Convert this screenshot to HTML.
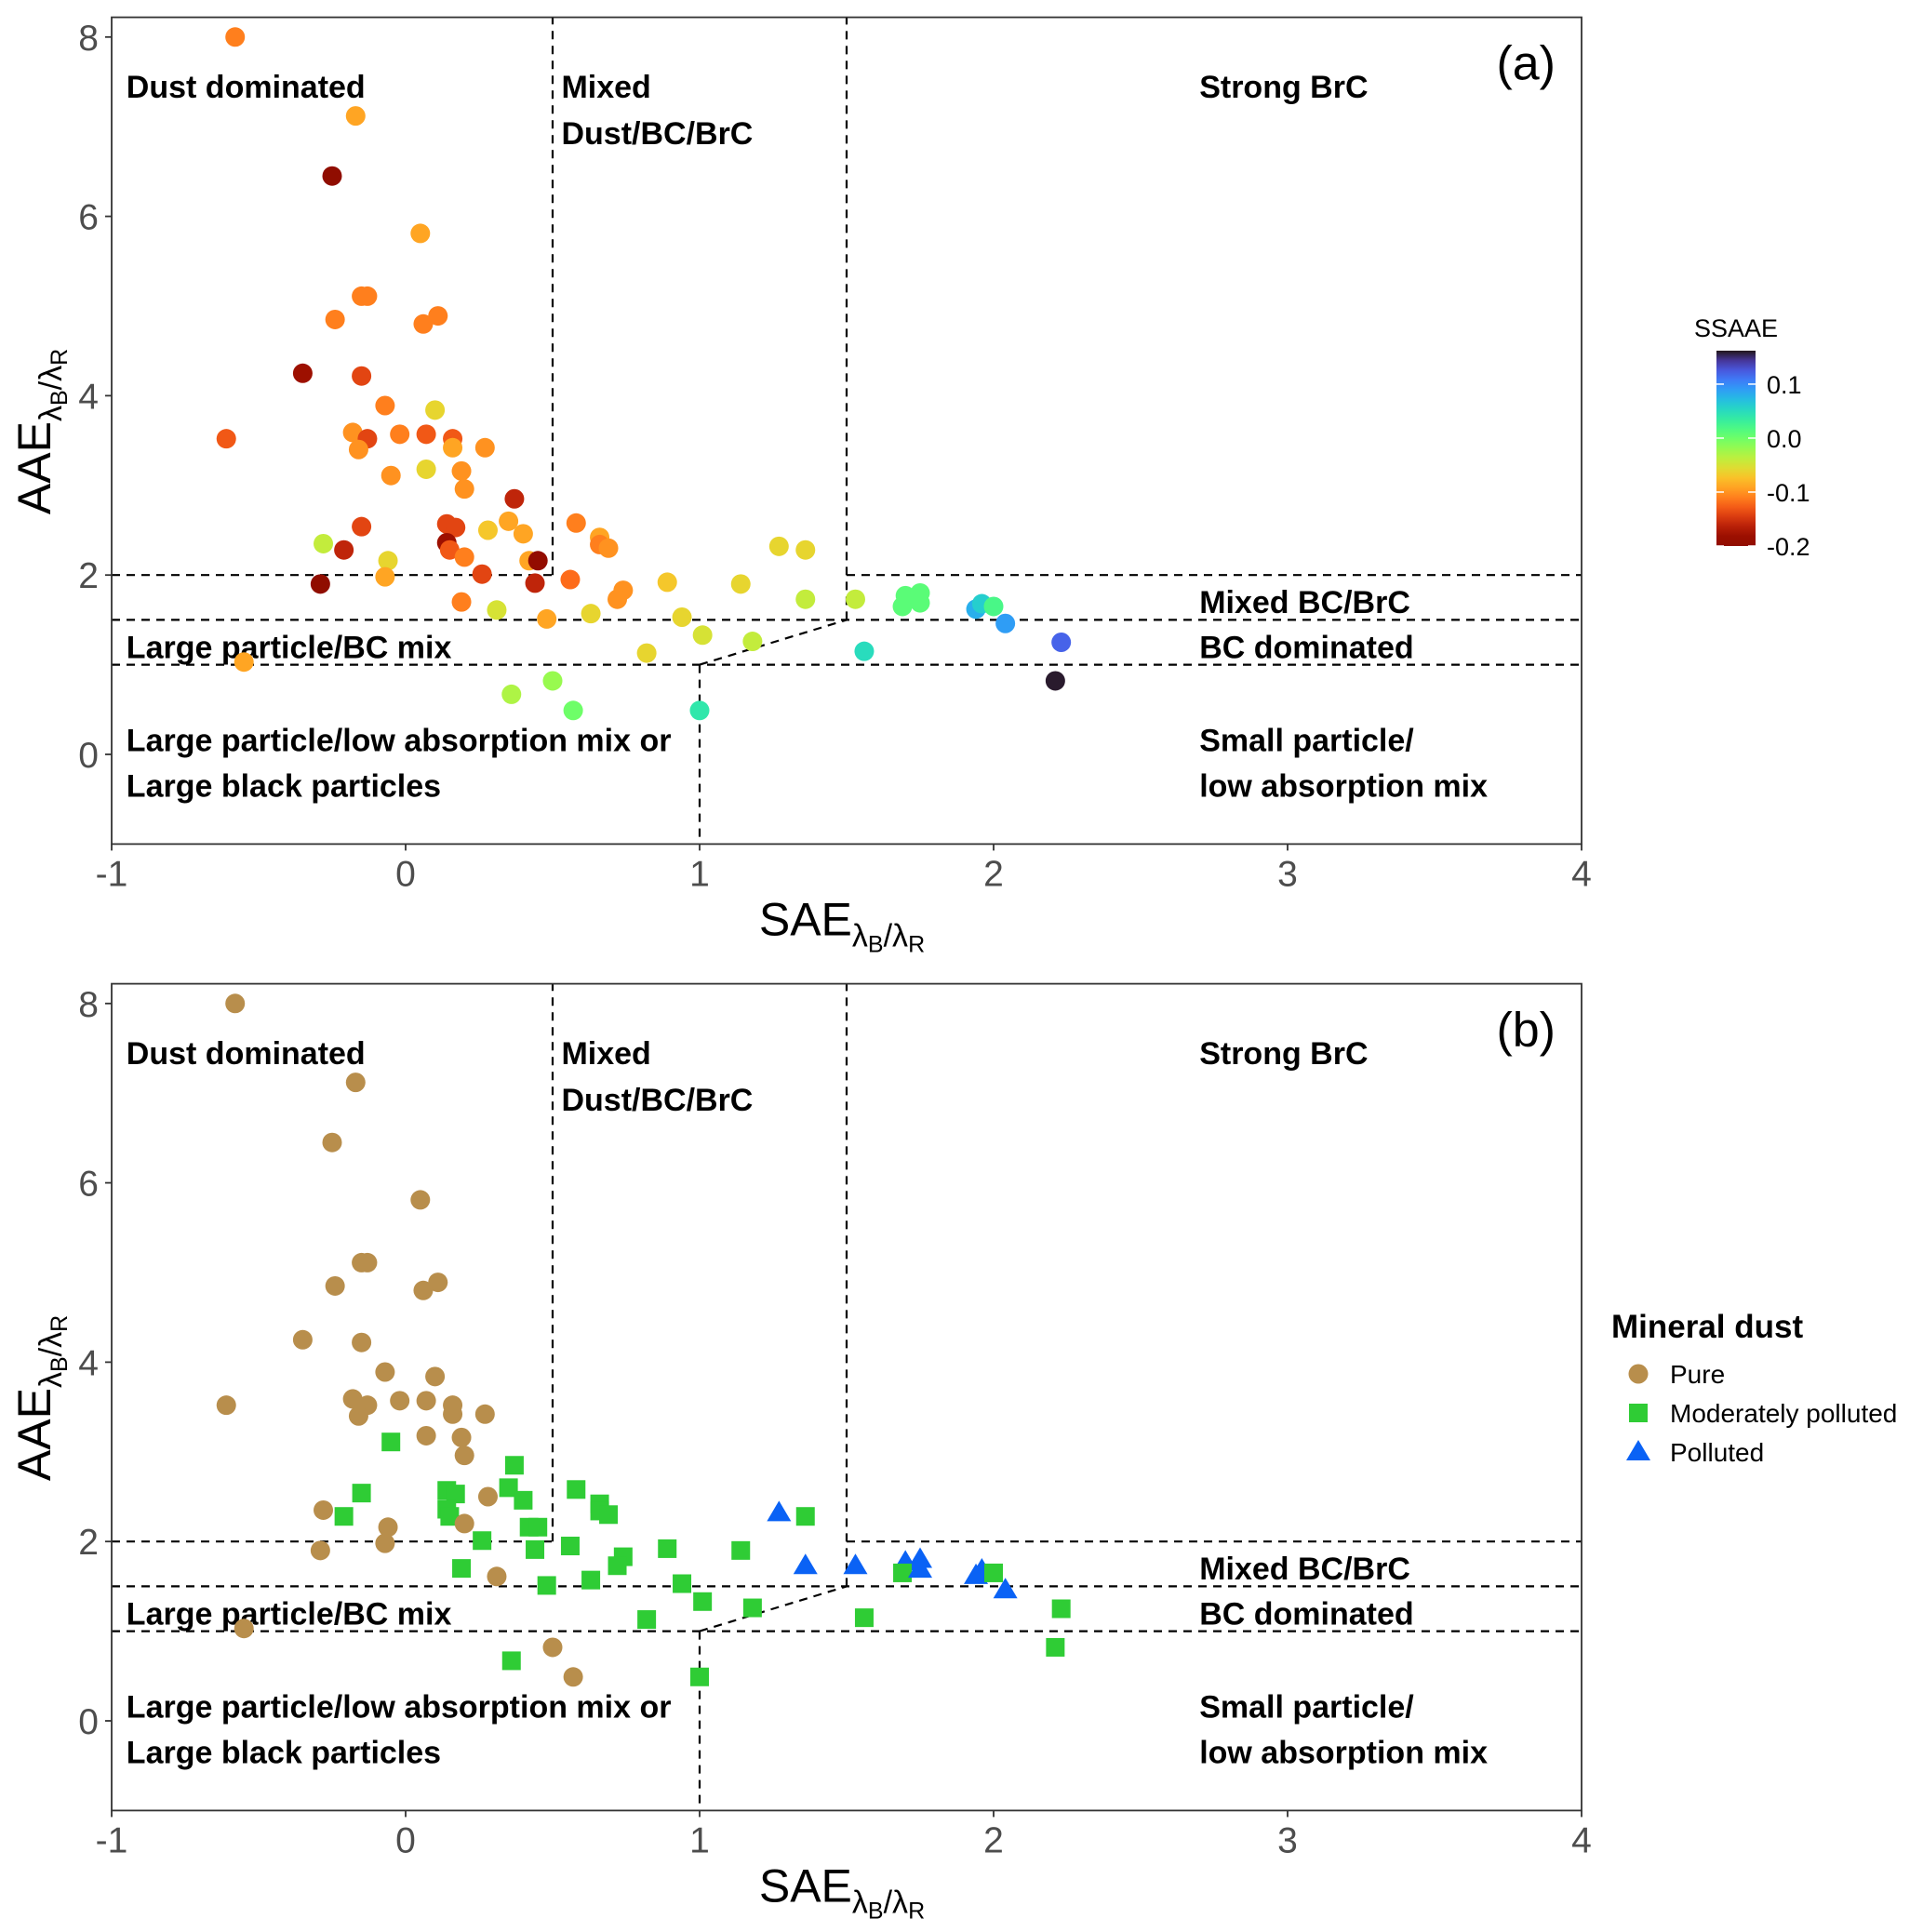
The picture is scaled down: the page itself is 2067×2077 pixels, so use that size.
<!DOCTYPE html>
<html><head><meta charset="utf-8"><style>
html,body{margin:0;padding:0;background:#fff;}
svg{display:block;font-family:"Liberation Sans",sans-serif;}
.lab{font-weight:bold;font-size:34px;fill:#000;}
.tick{font-size:39px;fill:#4d4d4d;}
</style></head><body>
<svg id="chart" width="2067" height="2077" viewBox="0 0 2067 2077" xmlns="http://www.w3.org/2000/svg"></svg>
<script>
// data: SAE, AAE, SSAAE, category (0 pure,1 moderately polluted,2 polluted)
const sae = [-0.58,-0.17,-0.25,0.05,-0.15,-0.13,-0.24,0.11,0.06,-0.35,-0.15,-0.61,-0.07,0.10,-0.18,-0.13,-0.02,0.07,0.16,-0.16,0.16,0.27,-0.05,0.07,0.19,0.20,0.37,0.35,0.28,0.40,0.14,0.17,-0.15,-0.28,-0.21,0.14,0.15,0.20,-0.06,0.42,0.45,0.26,-0.07,-0.29,0.44,0.56,0.19,0.31,0.48,0.58,0.66,0.66,0.69,0.74,0.72,0.63,0.89,0.94,0.82,1.01,1.14,1.18,1.27,1.36,1.36,1.53,1.56,1.70,1.75,1.69,1.75,1.94,1.96,2.00,2.04,2.23,2.21,-0.55,0.36,0.50,0.57,1.00];
const aae = [8.0,7.12,6.45,5.81,5.11,5.11,4.85,4.89,4.80,4.25,4.22,3.52,3.89,3.84,3.59,3.52,3.57,3.57,3.52,3.40,3.42,3.42,3.11,3.18,3.16,2.96,2.85,2.60,2.50,2.46,2.57,2.53,2.54,2.35,2.28,2.36,2.28,2.20,2.16,2.16,2.16,2.01,1.98,1.90,1.91,1.95,1.70,1.61,1.51,2.58,2.42,2.34,2.30,1.83,1.73,1.57,1.92,1.53,1.13,1.33,1.90,1.26,2.32,2.28,1.73,1.73,1.15,1.77,1.80,1.65,1.69,1.62,1.68,1.65,1.46,1.25,0.82,1.03,0.67,0.82,0.49,0.49];
const ssaae = [-0.11,-0.09,-0.20,-0.09,-0.11,-0.11,-0.11,-0.11,-0.11,-0.18,-0.14,-0.13,-0.11,-0.06,-0.10,-0.14,-0.11,-0.13,-0.13,-0.10,-0.09,-0.10,-0.10,-0.06,-0.10,-0.10,-0.16,-0.09,-0.07,-0.09,-0.14,-0.14,-0.14,-0.04,-0.16,-0.18,-0.13,-0.11,-0.06,-0.09,-0.19,-0.14,-0.09,-0.21,-0.16,-0.12,-0.11,-0.05,-0.09,-0.11,-0.09,-0.11,-0.10,-0.10,-0.10,-0.06,-0.07,-0.06,-0.06,-0.05,-0.06,-0.04,-0.06,-0.06,-0.04,-0.04,0.05,0.01,0.01,0.01,0.01,0.08,0.06,0.02,0.09,0.12,0.16,-0.09,-0.03,-0.02,0.00,0.04];
const cat = [0,0,0,0,0,0,0,0,0,0,0,0,0,0,0,0,0,0,0,0,0,0,1,0,0,0,1,1,0,1,1,1,1,0,1,1,1,0,0,1,1,1,0,0,1,1,1,0,1,1,1,1,1,1,1,1,1,1,1,1,1,1,2,1,2,2,1,2,2,1,2,2,2,1,2,1,1,0,1,0,0,1];
const xTicks = [-1,0,1,2,3,4];
const yTicks = [0,2,4,6,8];
const cbTicks = [0.1,0.0,-0.1,-0.2];
const cbTickLabels = ["0.1","0.0","-0.1","-0.2"];
const catNames = ["Pure","Moderately polluted","Polluted"];
const catColors = ["#b88e4c","#2fcc35","#0a62f5"];

const NS="http://www.w3.org/2000/svg";
const svg=document.getElementById('chart');
function mk(tag,attrs,parent){const e=document.createElementNS(NS,tag);for(const k in attrs)e.setAttribute(k,attrs[k]);(parent||svg).appendChild(e);return e;}
function turbo(t){t=Math.max(0,Math.min(1,t));
 const r=0.13572138+t*(4.61539260+t*(-42.66032258+t*(132.13108234+t*(-152.94239396+t*59.28637943))));
 const g=0.09140261+t*(2.19418839+t*(4.84296658+t*(-14.18503333+t*(4.27729857+t*2.82956604))));
 const b=0.10667330+t*(12.64194608+t*(-60.58204836+t*(110.36276771+t*(-89.90310912+t*27.34824973))));
 const c=v=>Math.round(Math.max(0,Math.min(1,v))*255);return `rgb(${c(r)},${c(g)},${c(b)})`;}
const vMin=-0.2,vMax=0.162;
function colorOf(v){return turbo((vMax-v)/(vMax-vMin));}

const X0=120,XU=316;
function sx(v){return X0+(v+1)*XU;}
function makePanel(top0,name,label){
  const YU=96.4;
  const sy=v=>top0-v*YU;
  const g=mk('g',{});
  
  
  const yTop=sy(8.22), yBot=sy(-1);
  const dl=(x1,y1,x2,y2)=>{const l=mk('line',{x1:sx(x1),y1:sy(y1),x2:sx(x2),y2:sy(y2),stroke:'#000','stroke-width':2.2,'stroke-dasharray':'9,7'},g);};
  dl(-1,2,0.5,2); dl(0.5,2,0.5,8.22); dl(-1,1.5,4,1.5); dl(-1,1,4,1); dl(1.5,1.5,1.5,8.22); dl(1.5,2,4,2); dl(1,1,1.5,1.5); dl(1,1,1,-1);
  const labels=[["Dust dominated",-0.95,7.45],["Mixed",0.53,7.45],["Dust/BC/BrC",0.53,6.93],["Strong BrC",2.70,7.45],["Mixed BC/BrC",2.70,1.7],["BC dominated",2.70,1.2],["Large particle/BC mix",-0.95,1.2],["Large particle/low absorption mix or",-0.95,0.16],["Large black particles",-0.95,-0.35],["Small particle/",2.70,0.16],["low absorption mix",2.70,-0.35]];
  labels.forEach(l=>{const t=mk('text',{x:sx(l[1]),y:sy(l[2])+12,class:'lab'},g);t.textContent=l[0];});
  const pl=mk('text',{x:1672,y:sy(7.7)+17,'font-size':52,'text-anchor':'end',fill:'#000'},g);pl.textContent=label;
  
  const br=mk('rect',{x:X0,y:yTop,width:sx(4)-X0,height:yBot-yTop,fill:'none',stroke:'#333','stroke-width':1.8},g);
  
  xTicks.forEach(v=>{mk('line',{x1:sx(v),x2:sx(v),y1:yBot,y2:yBot+7,stroke:'#333','stroke-width':1.8},g);
    const t=mk('text',{x:sx(v),y:yBot+45,class:'tick','text-anchor':'middle'},g);t.textContent=v;});
  yTicks.forEach(v=>{mk('line',{x1:X0-7,x2:X0,y1:sy(v),y2:sy(v),stroke:'#333','stroke-width':1.8},g);
    const t=mk('text',{x:X0-14,y:sy(v)+14,class:'tick','text-anchor':'end'},g);t.textContent=v;});
  const xt=mk('text',{x:905,y:yBot+98,'font-size':50,'text-anchor':'middle',fill:'#000'},g);
  xt.innerHTML='SAE<tspan font-size="34" dy="12">λ</tspan><tspan font-size="25" dy="6">B</tspan><tspan font-size="34" dy="-6">/λ</tspan><tspan font-size="25" dy="6">R</tspan>';
  
  const yc=sy(3.6);
  const yt=mk('text',{x:0,y:0,'font-size':50,'text-anchor':'middle',fill:'#000',transform:`translate(54,${yc}) rotate(-90)`},g);
  yt.innerHTML='AAE<tspan font-size="34" dy="12">λ</tspan><tspan font-size="25" dy="6">B</tspan><tspan font-size="34" dy="-6">/λ</tspan><tspan font-size="25" dy="6">R</tspan>';
  
  return {g,sy};
}
const A=makePanel(811,'panel-a','(a)');
sae.forEach((v,i)=>{const c=mk('circle',{cx:sx(v),cy:A.sy(aae[i]),r:10.5,fill:colorOf(ssaae[i])},A.g);
  });
const B=makePanel(1850,'panel-b','(b)');
function shape(k,x,y,parent){
  if(k===0)return mk('circle',{cx:x,cy:y,r:10.5,fill:catColors[0]},parent);
  if(k===1)return mk('rect',{x:x-10,y:y-10,width:20,height:20,fill:catColors[1]},parent);
  return mk('polygon',{points:`${x},${y-13} ${x-13},${y+9} ${x+13},${y+9}`,fill:catColors[2]},parent);}
sae.forEach((v,i)=>{const s=shape(cat[i],sx(v),B.sy(aae[i]),B.g);
  });
const cbg=mk('g',{});

const defs=mk('defs',{},cbg);const lg=mk('linearGradient',{id:'cbgrad',x1:0,y1:0,x2:0,y2:1},defs);
for(let i=0;i<=20;i++){mk('stop',{offset:i/20,'stop-color':turbo(i/20)},lg);}
const cbTop=377,cbBot=587;
const cby=v=>cbTop+(vMax-v)/(vMax-vMin)*(cbBot-cbTop);
mk('rect',{x:1845,y:cbTop,width:42,height:cbBot-cbTop,fill:'url(#cbgrad)'},cbg);
const ct=mk('text',{x:1866,y:362,'font-size':27,'text-anchor':'middle',fill:'#000'},cbg);ct.textContent='SSAAE';
cbTicks.forEach((v,i)=>{mk('line',{x1:1845,x2:1853,y1:cby(v),y2:cby(v),stroke:'#fff','stroke-width':1.5},cbg);
  mk('line',{x1:1879,x2:1887,y1:cby(v),y2:cby(v),stroke:'#fff','stroke-width':1.5},cbg);
  const t=mk('text',{x:1899,y:cby(v)+10,'font-size':27,fill:'#000'},cbg);t.textContent=cbTickLabels[i];
  });
const lgG=mk('g',{});

const lt=mk('text',{x:1732,y:1438,'font-size':35,'font-weight':'bold',fill:'#000'},lgG);lt.textContent='Mineral dust';
catNames.forEach((n,i)=>{const y=1477+i*42;
  const e=mk('g',{},lgG);
  shape(i,1761,y,e);
  const t=mk('text',{x:1795,y:y+10,'font-size':28,fill:'#000'},e);t.textContent=n;});
</script>
</body></html>
